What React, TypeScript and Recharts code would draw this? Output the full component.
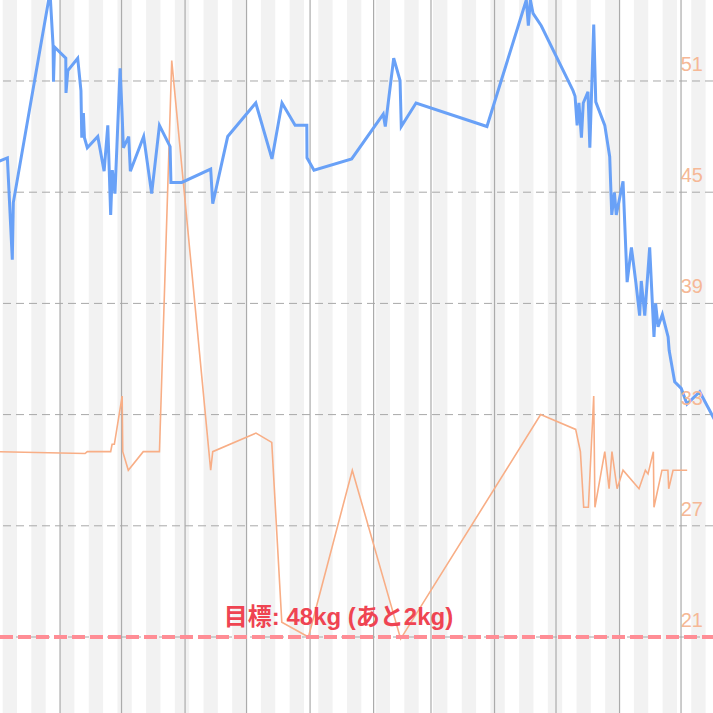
import React from 'react';
import { ComposedChart, Line, XAxis, YAxis, ReferenceLine, ReferenceArea } from 'recharts';

// days counted from Sep 1
const weightDays = [-31, -25.7, -23.3, -22.8, -4.9, -3.4, -3.2, -2.7, 2.8, 2.9, 3.8, 8.6, 10.2, 10.6, 11.4, 11.9, 13.3, 18.4, 21.5, 23.3, 24.7, 25.5, 26.8, 29.3, 30.3, 30.9, 33.5, 34.3, 40.8, 44.7, 48.5, 53.7, 54.1, 59.4, 73.5, 74.5, 81.8, 95.5, 103.4, 108.3, 114.7, 120.4, 120.5, 123.9, 142.3, 157.7, 158.7, 162.8, 165.9, 166.5, 173.7, 208.3, 227.5, 228.5, 229.5, 230.8, 234.8, 250.3, 251.3, 252.3, 253.2, 254.4, 255.3, 257.6, 258.5, 260.4, 261.4, 265.8, 268.2, 269.2, 270.5, 271.4, 274.7, 276.7, 278.8, 281.0, 282.8, 283.6, 285.3, 287.7, 289.8, 290.6, 291.8, 293.9, 296.7, 297.2, 299.9, 303.1, 305.9, 312.1, 322.0];
const weightKg = [52.24, 52.28, 51.37, 51.88, 53.76, 53.28, 52.96, 53.27, 53.17, 52.86, 53.06, 53.17, 52.88, 52.46, 52.68, 52.46, 52.37, 52.47, 52.16, 52.57, 51.77, 52.17, 51.96, 53.08, 52.66, 52.37, 52.47, 52.16, 52.47, 51.96, 52.57, 52.38, 52.06, 52.06, 52.18, 51.87, 52.47, 52.77, 52.27, 52.77, 52.57, 52.57, 52.28, 52.17, 52.27, 52.67, 52.56, 53.17, 52.97, 52.56, 52.77, 52.56, 53.69, 53.46, 53.69, 53.57, 53.46, 52.88, 52.83, 52.57, 52.77, 52.46, 52.77, 52.87, 52.37, 53.47, 52.78, 52.57, 52.29, 51.77, 51.97, 51.77, 52.07, 51.17, 51.48, 51.16, 50.87, 51.18, 50.87, 51.48, 50.68, 50.98, 50.77, 50.88, 50.68, 50.56, 50.28, 50.22, 50.08, 50.19, 49.85];

const fatDays = [-30, 12.2, 13.3, 24.7, 25.4, 26.5, 30.3, 30.6, 33.3, 40.6, 48.5, 54.5, 73.5, 74.5, 95.6, 103.3, 108.2, 121.2, 142.6, 166.2, 234.5, 251.6, 253.9, 255.5, 257.8, 260.4, 261.0, 265.8, 267.9, 269.3, 271.8, 274.7, 282.5, 285.6, 286.9, 289.5, 289.8, 293.7, 296.6, 297.0, 299.1, 306.0];
const fatPct = [31.0, 30.9, 31.0, 31.0, 31.4, 31.4, 34.0, 31.0, 30.0, 31.0, 31.0, 52.1, 30.0, 31.0, 32.0, 31.5, 21.8, 21.0, 30.0, 20.9, 33.0, 32.2, 31.0, 28.0, 28.0, 34.0, 28.0, 31.0, 29.0, 31.0, 29.0, 30.0, 29.0, 30.0, 29.8, 31.0, 28.0, 30.0, 30.0, 29.0, 30.0, 30.0];

const fatTicks = [21, 27, 33, 39, 45, 51];
const monthStartDays = [0, 30, 61, 91, 122, 153, 181, 212, 242, 273, 303];
const greyWeekStarts = Array.from({ length: 26 }, (_, i) => -28 + 14 * i);
const targetKg = 48;
const targetLabel = '目標: 48kg (あと2kg)';

const weightData = weightDays.map((d, i) => ({ day: d, kg: weightKg[i] }));
const fatData = fatDays.map((d, i) => ({ day: d, fat: fatPct[i] }));

export default function App() {
  return (
    <div style={{ position: 'absolute', left: 0, top: 0, fontFamily: "'Liberation Sans', Arial, sans-serif" }}>
      <ComposedChart width={713} height={713} margin={{ top: 0, right: 0, bottom: 0, left: 0 }}>
        <XAxis type="number" dataKey="day" domain={[-29.3, 318.6]} allowDataOverflow hide />
        <YAxis yAxisId="kg" domain={[47.32, 53.69]} allowDataOverflow hide />
        <YAxis yAxisId="fat" orientation="right" domain={[16.9, 55.37]} allowDataOverflow hide />
        {greyWeekStarts.map((s) => (
          <ReferenceArea key={'w' + s} yAxisId="fat" x1={s} x2={s + 7} fill="#f2f2f2" fillOpacity={1} stroke="none" ifOverflow="hidden" />
        ))}
        {monthStartDays.map((d) => (
          <ReferenceLine key={'m' + d} yAxisId="fat" x={d} stroke="#ababab" strokeWidth={1.2} />
        ))}
        {fatTicks.map((t) => (
          <ReferenceLine
            key={'t' + t}
            yAxisId="fat"
            y={t}
            stroke="#a8a8a8"
            strokeDasharray="8 5"
            label={{ value: String(t), position: 'insideBottomRight', offset: 10, fill: '#f6b896', fontSize: 20 }}
          />
        ))}
        <Line data={fatData} yAxisId="fat" dataKey="fat" type="linear" stroke="#f8ae86" strokeWidth={1.6} dot={false} isAnimationActive={false} />
        <Line data={weightData} yAxisId="kg" dataKey="kg" type="linear" stroke="#69a1f7" strokeWidth={3} dot={false} isAnimationActive={false} />
        <ReferenceLine
          yAxisId="kg"
          y={targetKg}
          stroke="#ff8d95"
          strokeWidth={4}
          strokeDasharray="13 5"
          label={{ value: targetLabel, position: 'top', offset: 12, dx: -18, fill: '#ef4452', fontSize: 24, fontWeight: 'bold', fontFamily: "'Liberation Sans', 'Noto Sans CJK JP', sans-serif" }}
        />
      </ComposedChart>
    </div>
  );
}
